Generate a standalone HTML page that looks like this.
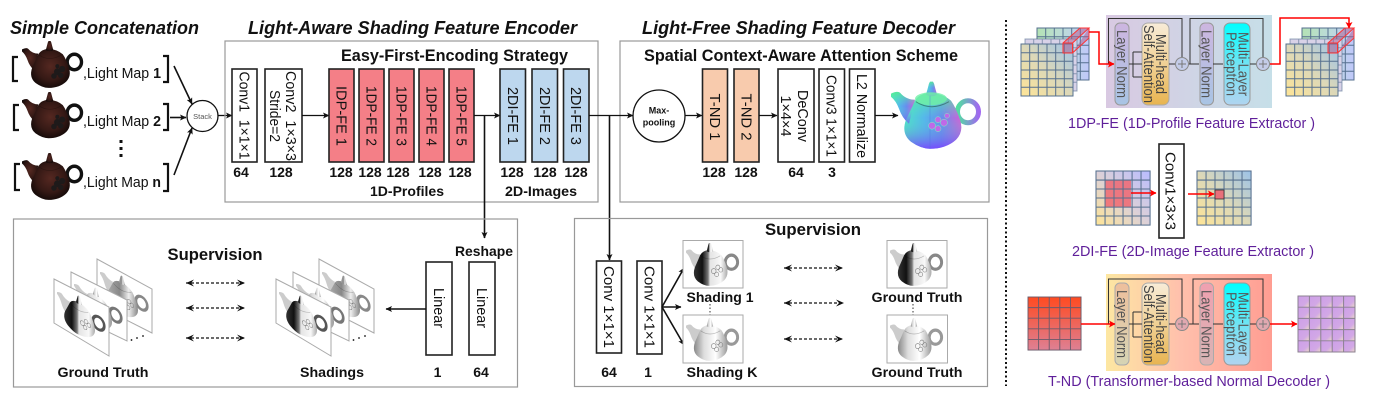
<!DOCTYPE html>
<html><head><meta charset="utf-8"><style>
html,body{margin:0;padding:0;background:#fff}
svg{display:block;filter:blur(.35px)}
text{font-family:"Liberation Sans",sans-serif;fill:#111}
.t{font-weight:bold;font-style:italic;font-size:18.5px}
.h{font-weight:bold;font-size:16.5px}
.n{font-weight:bold;font-size:14px;text-anchor:middle}
.r{font-size:14.5px;text-anchor:middle}
.g{font-size:15px;text-anchor:middle;fill:#555}
.c{font-size:14.5px;fill:#5f1f9a}
.b{stroke:#222;stroke-width:1.6;fill:#fff}
.br{fill:none;stroke:#111;stroke-width:2.2}
.a{fill:none;stroke:#111;stroke-width:1.3;marker-end:url(#m)}
.ak{fill:none;stroke:#111;stroke-width:1.6;marker-end:url(#m)}
.rd{fill:none;stroke:#f00;stroke-width:1.5;marker-end:url(#mr)}
.d{fill:none;stroke:#111;stroke-width:1.2;stroke-dasharray:3 2;marker-start:url(#md);marker-end:url(#mf)}
.frame{fill:#fff;stroke:#aaa;stroke-width:1}
.grp{fill:none;stroke:#999;stroke-width:1.2}
</style></head><body>
<svg xmlns="http://www.w3.org/2000/svg" width="1374" height="400" viewBox="0 0 1374 400">
<defs>
<marker id="m" markerUnits="userSpaceOnUse" markerWidth="7" markerHeight="6" refX="6" refY="3" orient="auto"><path d="M0,0L6.5,3L0,6L1.5,3Z" fill="#111"/></marker>
<marker id="mr" markerUnits="userSpaceOnUse" markerWidth="7" markerHeight="7" refX="6" refY="3.5" orient="auto"><path d="M0,0L6.5,3.5L0,7L1.5,3.5Z" fill="#f00"/></marker>
<marker id="mf" markerUnits="userSpaceOnUse" markerWidth="9" markerHeight="7" refX="8" refY="3.5" orient="auto"><path d="M0,0L8,3.5L0,7L3,3.5Z" fill="#111"/></marker>
<marker id="md" markerUnits="userSpaceOnUse" markerWidth="9" markerHeight="7" refX="0" refY="3.5" orient="auto"><path d="M8,0L0,3.5L8,7L5,3.5Z" fill="#111"/></marker>
<radialGradient id="brown" cx=".5" cy=".45" r=".6"><stop offset="0" stop-color="#552821"/><stop offset=".6" stop-color="#351915"/><stop offset="1" stop-color="#100807"/></radialGradient>
<linearGradient id="dark"><stop offset="0" stop-color="#333"/><stop offset=".25" stop-color="#111"/><stop offset=".42" stop-color="#777"/><stop offset=".48" stop-color="#e4e4e4"/><stop offset=".8" stop-color="#f8f8f8"/><stop offset="1" stop-color="#aaa"/></linearGradient>
<linearGradient id="light"><stop offset="0" stop-color="#888"/><stop offset=".3" stop-color="#ddd"/><stop offset=".65" stop-color="#fff"/><stop offset="1" stop-color="#999"/></linearGradient>
<linearGradient id="mid"><stop offset="0" stop-color="#aaa"/><stop offset=".4" stop-color="#888"/><stop offset=".7" stop-color="#eee"/><stop offset="1" stop-color="#888"/></linearGradient>
<linearGradient id="nm"><stop offset="0" stop-color="#4fe0c8"/><stop offset=".35" stop-color="#55b0f0"/><stop offset=".65" stop-color="#6a80f4"/><stop offset="1" stop-color="#e050d8"/></linearGradient>
<linearGradient id="nmv" x1="0" y1="0" x2="0" y2="1"><stop offset="0" stop-color="#55f08a" stop-opacity=".85"/><stop offset=".45" stop-color="#55f0c0" stop-opacity=".1"/><stop offset="1" stop-color="#7a40ff" stop-opacity=".85"/></linearGradient>
<linearGradient id="hd"><stop offset="0" stop-color="#50e0a0"/><stop offset="1" stop-color="#a068f0"/></linearGradient>
<linearGradient id="gY" x1="0" y1="1" x2="1" y2="0"><stop offset="0" stop-color="#ffe596"/><stop offset=".5" stop-color="#dcd8b8"/><stop offset="1" stop-color="#9cc2e8"/></linearGradient>
<linearGradient id="gL" x1="0" y1="1" x2="1" y2="0"><stop offset="0" stop-color="#ffe596"/><stop offset=".5" stop-color="#dcd0d8"/><stop offset="1" stop-color="#b8bcff"/></linearGradient>
<linearGradient id="gG" x1="0" y1="0" x2="1" y2="0"><stop offset="0" stop-color="#b4e2b4"/><stop offset=".5" stop-color="#bcdcd8"/><stop offset="1" stop-color="#c0c8fa"/></linearGradient>
<linearGradient id="gR" x1="0" y1="0" x2="0" y2="1"><stop offset="0" stop-color="#ff4a20"/><stop offset="1" stop-color="#de8094"/></linearGradient>
<linearGradient id="gP" x1="0" y1="0" x2="1" y2="1"><stop offset="0" stop-color="#cd9fe8"/><stop offset=".65" stop-color="#d2a8e6"/><stop offset="1" stop-color="#ecdcc4"/></linearGradient>
<linearGradient id="p1"><stop offset="0" stop-color="#d9c9e2"/><stop offset="1" stop-color="#c6dfe8"/></linearGradient>
<linearGradient id="p2"><stop offset="0" stop-color="#fde7a2"/><stop offset=".45" stop-color="#ffc0ac"/><stop offset="1" stop-color="#ff9d92"/></linearGradient>
<linearGradient id="ln1" x1="0" y1="0" x2="0" y2="1"><stop offset="0" stop-color="#cdb6e0"/><stop offset="1" stop-color="#a8c4e4"/></linearGradient>
<linearGradient id="ln2" x1="0" y1="0" x2="0" y2="1"><stop offset="0" stop-color="#eebf9c"/><stop offset="1" stop-color="#d6d4b4"/></linearGradient>
<linearGradient id="ln3" x1="0" y1="0" x2="0" y2="1"><stop offset="0" stop-color="#f0a0b0"/><stop offset="1" stop-color="#d8b4b4"/></linearGradient>
<linearGradient id="mh1" x1="0" y1="0" x2="0" y2="1"><stop offset="0" stop-color="#f8ecd8"/><stop offset="1" stop-color="#e8b450"/></linearGradient>
<linearGradient id="mlp" x1="0" y1="0" x2="0" y2="1"><stop offset="0" stop-color="#00ffff"/><stop offset=".5" stop-color="#70e4f4"/><stop offset="1" stop-color="#b0d4f0"/></linearGradient>
<g id="tp">
<ellipse cx="77" cy="30" rx="10.500" ry="11" fill="none" stroke-width="5"/>
<path stroke="none" style="fill:var(--sp,inherit)" d="M0,12Q6,9 9,11Q15,18 24,18L18,42Q11,36 8,27Q5,19 0,15Z"/>
<path stroke="none" d="M39,11Q28,12 24,19Q19,30 15,38Q10,52 20,60Q30,67 39,67Q55,67 65,58Q73,50 69,38Q65,26 60,19Q52,12 39,11Z"/>
<path stroke="none" d="M35,13L38,2L39,0L42,0L43,2L46,13Q41,16 35,13Z"/>
<path d="M25,20Q40,30 58,20" fill="none" stroke="#000" stroke-opacity=".25" stroke-width="1"/>
</g>
<g id="fl" fill="#1e1a1a"><circle cx="52" cy="44" r="5"/><circle cx="59" cy="40" r="4.500"/><circle cx="47" cy="50" r="4"/><circle cx="57" cy="49" r="4"/><circle cx="52" cy="36" r="3"/></g>
<g id="fl2" fill="none" stroke="#777" stroke-width=".9"><circle cx="47" cy="44" r="4"/><circle cx="54" cy="38" r="3.500"/><circle cx="59" cy="42" r="3.500"/><circle cx="52" cy="49" r="3.500"/></g>
<g id="g6" fill="none" stroke="#56708f" stroke-width="1"><rect x="0" y="0" width="52" height="52"/><path d="M8.700,0V52M17.300,0V52M26,0V52M34.700,0V52M43.300,0V52M0,8.700H52M0,17.300H52M0,26H52M0,34.700H52M0,43.300H52"/></g>
<g id="g5" fill="none" stroke-width=".9"><rect x="0" y="0" width="52" height="52"/><path d="M10.400,0V52M20.800,0V52M31.200,0V52M41.600,0V52M0,10.400H52M0,20.800H52M0,31.200H52M0,41.600H52"/></g>
<g id="stk">
<rect x="16" y="-16" width="52" height="52" fill="url(#gG)"/><use href="#g6" x="16" y="-16"/>
<rect x="4" y="-5" width="52" height="52" fill="#d8d2e8"/><use href="#g6" x="4" y="-5" opacity=".6"/>
<rect x="0" y="0" width="52" height="52" fill="url(#gY)"/><use href="#g6"/>
<path d="M42,-1H51.500V9H42ZM42,-1L59,-16H68L51.500,-1M51.500,9L68,-6V-16" fill="#b05a8a" fill-opacity=".5" stroke="#f33" stroke-width="1"/>
</g>
<g id="pl" style="--sp:#ccc">
<path class="frame" d="M97,259L152,289V333L97,305Z"/>
<use href="#tp" transform="matrix(.54,.27,0,.58,100,265)" fill="url(#mid)" stroke="#888"/>
<use href="#fl2" transform="matrix(.54,.27,0,.58,100,265)"/>
<path class="frame" d="M71,272L127,300V341L71,314Z"/>
<use href="#tp" transform="matrix(.54,.27,0,.58,74,277)" fill="url(#light)" stroke="#777"/>
<path class="frame" d="M54,279L109,307V356L54,323Z"/>
<use href="#tp" transform="matrix(.54,.27,0,.58,57,285)" fill="url(#dark)" stroke="#555"/>
<use href="#fl2" transform="matrix(.54,.27,0,.58,57,285)"/>
<circle cx="131.500" cy="340" r=".9" fill="#111"/><circle cx="137" cy="338" r=".9" fill="#111"/><circle cx="143" cy="336" r=".9" fill="#111"/>
</g>
</defs>

<text class="t" x="10" y="34" textLength="189" lengthAdjust="spacingAndGlyphs">Simple Concatenation</text>
<text class="t" x="248" y="34" textLength="329" lengthAdjust="spacingAndGlyphs">Light-Aware Shading Feature Encoder</text>
<text class="t" x="642" y="34" textLength="313" lengthAdjust="spacingAndGlyphs">Light-Free Shading Feature Decoder</text>

<!-- left teapots -->
<g><use href="#tp" transform="translate(22,41) scale(.68,.7)" fill="url(#brown)" stroke="#111"/><use href="#fl" transform="translate(22,41) scale(.68,.7)"/></g>
<g><use href="#tp" transform="translate(22,92) scale(.68,.69)" fill="url(#brown)" stroke="#111"/><use href="#fl" transform="translate(22,92) scale(.68,.69)"/></g>
<g><use href="#tp" transform="translate(22,153) scale(.68,.7)" fill="url(#brown)" stroke="#111"/><use href="#fl" transform="translate(22,153) scale(.68,.7)"/></g>
<path class="br" d="M18,57H13V81H18M163,56H168V82H163M19,105H14V130H19M163,104H168V130H163M20,164H15V190H20M163,164H168V191H163"/>
<text x="83" y="78" font-size="14.500" textLength="78" lengthAdjust="spacingAndGlyphs">,Light Map <tspan font-weight="bold">1</tspan></text>
<text x="83" y="126" font-size="14.500" textLength="78" lengthAdjust="spacingAndGlyphs">,Light Map <tspan font-weight="bold">2</tspan></text>
<text x="83" y="187" font-size="14.500" textLength="78" lengthAdjust="spacingAndGlyphs">,Light Map <tspan font-weight="bold">n</tspan></text>
<g fill="#111"><rect x="119.500" y="140" width="3" height="3"/><rect x="119.500" y="147" width="3" height="3"/><rect x="119.500" y="154" width="3" height="3"/></g>
<path class="ak" d="M174,66L192,104"/><path class="ak" d="M170,117.500H186"/><path class="ak" d="M174,175L192,128"/>
<circle cx="202.500" cy="116" r="15.500" fill="#fff" stroke="#111" stroke-width="1.300"/>
<text x="202.500" y="119" font-size="7.500" text-anchor="middle" style="fill:#555">Stack</text>
<path class="a" d="M218,115.500H232"/>

<!-- encoder -->
<rect class="grp" x="225" y="41" width="373" height="161"/>
<text class="h" x="341" y="61" textLength="227" lengthAdjust="spacingAndGlyphs">Easy-First-Encoding Strategy</text>
<rect class="b" x="232" y="69" width="25" height="93"/>
<text class="r" transform="translate(244.500,115.500) rotate(90)" y="5" textLength="88" lengthAdjust="spacingAndGlyphs">Conv1&#160;&#160;1×1×1</text>
<rect class="b" x="265" y="69" width="37" height="93"/>
<text class="r" transform="translate(285.500,116) rotate(90)" y="-0.500" textLength="90" lengthAdjust="spacingAndGlyphs">Conv2&#160;&#160;1×3×3</text>
<text class="r" transform="translate(269,116) rotate(90)" y="-1" textLength="52" lengthAdjust="spacingAndGlyphs">Stride=2</text>
<path class="a" d="M302,115.500H329"/>
<g fill="#f47f87" stroke="#222" stroke-width="1.600"><rect x="329" y="69" width="25" height="93"/><rect x="359" y="69" width="25" height="93"/><rect x="389" y="69" width="25" height="93"/><rect x="419" y="69" width="25" height="93"/><rect x="449" y="69" width="25" height="93"/></g>
<text class="r" transform="translate(341.500,116) rotate(90)" y="5" textLength="60" lengthAdjust="spacingAndGlyphs">IDP-FE 1</text>
<text class="r" transform="translate(371.500,116) rotate(90)" y="5" textLength="60" lengthAdjust="spacingAndGlyphs">1DP-FE 2</text>
<text class="r" transform="translate(401.500,116) rotate(90)" y="5" textLength="60" lengthAdjust="spacingAndGlyphs">1DP-FE 3</text>
<text class="r" transform="translate(431.500,116) rotate(90)" y="5" textLength="60" lengthAdjust="spacingAndGlyphs">1DP-FE 4</text>
<text class="r" transform="translate(461.500,116) rotate(90)" y="5" textLength="60" lengthAdjust="spacingAndGlyphs">1DP-FE 5</text>
<path class="a" d="M474,115.500H500"/>
<g fill="#bdd7ee" stroke="#222" stroke-width="1.600"><rect x="500" y="69" width="25.500" height="93"/><rect x="532" y="69" width="25.500" height="93"/><rect x="563.500" y="69" width="25.500" height="93"/></g>
<text class="r" transform="translate(513,116) rotate(90)" y="5" textLength="58" lengthAdjust="spacingAndGlyphs">2DI-FE 1</text>
<text class="r" transform="translate(545,116) rotate(90)" y="5" textLength="58" lengthAdjust="spacingAndGlyphs">2DI-FE 2</text>
<text class="r" transform="translate(576,116) rotate(90)" y="5" textLength="58" lengthAdjust="spacingAndGlyphs">2DI-FE 3</text>
<text class="n" x="241" y="177">64</text><text class="n" x="281" y="177">128</text>
<text class="n" x="341" y="177">128</text><text class="n" x="370" y="177">128</text><text class="n" x="398" y="177">128</text><text class="n" x="430" y="177">128</text><text class="n" x="460" y="177">128</text>
<text class="n" x="512" y="177">128</text><text class="n" x="545" y="177">128</text><text class="n" x="576" y="177">128</text>
<text class="n" x="407" y="196" textLength="74" lengthAdjust="spacingAndGlyphs">1D-Profiles</text>
<text class="n" x="541" y="196" textLength="72" lengthAdjust="spacingAndGlyphs">2D-Images</text>

<!-- decoder -->
<rect class="grp" x="620" y="41" width="369" height="161"/>
<text class="h" x="644" y="61" textLength="314" lengthAdjust="spacingAndGlyphs">Spatial Context-Aware Attention Scheme</text>
<path class="a" d="M589,115.500H633"/>
<circle cx="659" cy="116" r="26" fill="#fff" stroke="#111" stroke-width="1.300"/>
<text x="659" y="113.500" font-size="9" font-weight="bold" text-anchor="middle">Max-</text>
<text x="659" y="125.500" font-size="9" font-weight="bold" text-anchor="middle">pooling</text>
<path class="a" d="M685,115.500H702"/>
<g fill="#f8cbad" stroke="#222" stroke-width="1.600"><rect x="702.500" y="69" width="25" height="93"/><rect x="734" y="69" width="25" height="93"/></g>
<text class="r" transform="translate(715,117) rotate(90)" y="5" textLength="47" lengthAdjust="spacingAndGlyphs">T-ND 1</text>
<text class="r" transform="translate(746.500,117) rotate(90)" y="5" textLength="47" lengthAdjust="spacingAndGlyphs">T-ND 2</text>
<path class="a" d="M759,115.500H777"/>
<rect class="b" x="778" y="69" width="36" height="93"/>
<text class="r" transform="translate(797,116) rotate(90)" y="-1" textLength="52" lengthAdjust="spacingAndGlyphs">DeConv</text>
<text class="r" transform="translate(780,116) rotate(90)" y="-1" textLength="41" lengthAdjust="spacingAndGlyphs">1×4×4</text>
<rect class="b" x="819" y="69" width="25.500" height="93"/>
<text class="r" transform="translate(831.500,116) rotate(90)" y="5" textLength="82" lengthAdjust="spacingAndGlyphs">Conv3 1×1×1</text>
<rect class="b" x="849.500" y="69" width="25.500" height="93"/>
<text class="r" transform="translate(862,116) rotate(90)" y="5" textLength="84" lengthAdjust="spacingAndGlyphs">L2 Normalize</text>
<path class="a" d="M875,115.500H898"/>
<text class="n" x="714" y="177">128</text><text class="n" x="746" y="177">128</text><text class="n" x="796" y="177">64</text><text class="n" x="832" y="177">3</text>
<g transform="translate(891,81.700)">
<use href="#tp" fill="url(#nm)" stroke="url(#hd)"/>
<use href="#tp" fill="url(#nmv)" stroke="none"/>
<ellipse cx="40" cy="17" rx="16" ry="6.500" fill="#70f0a8" opacity=".8"/>
<path d="M39,14V67" stroke="#5070e0" stroke-width=".7" opacity=".5"/>
<g fill="#c068e8" stroke="#80f0c0" stroke-width=".5"><circle cx="41" cy="44" r="3.500"/><circle cx="47" cy="38" r="3"/><circle cx="53" cy="41" r="3.500"/><circle cx="47" cy="47" r="3"/><circle cx="56" cy="34" r="2.500"/></g>
</g>

<!-- verticals -->
<path class="ak" d="M484.500,115.500V238"/>
<path class="ak" d="M609.500,115.500V260"/>

<!-- bottom left -->
<rect class="grp" x="13.500" y="219" width="504" height="168"/>
<text class="h" x="215" y="260" text-anchor="middle" textLength="95" lengthAdjust="spacingAndGlyphs">Supervision</text>
<text x="484" y="256" font-size="14" font-weight="bold" text-anchor="middle" textLength="58" lengthAdjust="spacingAndGlyphs">Reshape</text>
<use href="#pl"/><use href="#pl" x="222"/>
<path class="d" d="M186,283H245"/><path class="d" d="M186,308H245"/><path class="d" d="M186,338H245"/>
<rect class="b" x="426" y="262" width="26" height="93"/>
<rect class="b" x="469" y="262" width="26" height="93"/>
<text class="r" transform="translate(439,308) rotate(90)" y="5" textLength="40" lengthAdjust="spacingAndGlyphs">Linear</text>
<text class="r" transform="translate(482,308) rotate(90)" y="5" textLength="40" lengthAdjust="spacingAndGlyphs">Linear</text>
<path class="ak" d="M426,309H386"/>
<text class="n" x="103" y="377" textLength="91" lengthAdjust="spacingAndGlyphs">Ground Truth</text>
<text class="n" x="332" y="377" textLength="64" lengthAdjust="spacingAndGlyphs">Shadings</text>
<text class="n" x="437.500" y="377">1</text><text class="n" x="481" y="377">64</text>

<!-- bottom right -->
<rect class="grp" x="574.500" y="218.500" width="413" height="168"/>
<text class="h" x="813" y="235" text-anchor="middle" textLength="96" lengthAdjust="spacingAndGlyphs">Supervision</text>
<rect class="b" x="596.500" y="261" width="25" height="92"/>
<rect class="b" x="637" y="261" width="25" height="93"/>
<text class="r" transform="translate(609,307) rotate(90)" y="5" textLength="82" lengthAdjust="spacingAndGlyphs">Conv 1×1×1</text>
<text class="r" transform="translate(649.500,307) rotate(90)" y="5" textLength="82" lengthAdjust="spacingAndGlyphs">Conv 1×1×1</text>
<path class="ak" d="M662,307L684,268"/><path class="ak" d="M662,307H681"/><path class="ak" d="M662,307L684,345"/>
<rect class="frame" x="683" y="240.500" width="60" height="47.500"/>
<rect class="frame" x="683" y="315" width="60" height="48"/>
<rect class="frame" x="887" y="240.500" width="60" height="47.500"/>
<rect class="frame" x="887" y="315" width="60.500" height="48"/>
<g style="--sp:#ccc">
<use href="#tp" transform="translate(686,243) scale(.59,.64)" fill="url(#dark)" stroke="#888"/>
<use href="#fl2" transform="translate(686,243) scale(.59,.64)"/>
<use href="#tp" transform="translate(686,318) scale(.59,.64)" fill="url(#light)" stroke="#999"/>
<use href="#fl2" transform="translate(686,318) scale(.59,.64)"/>
<use href="#tp" transform="translate(890,243) scale(.59,.64)" fill="url(#dark)" stroke="#888"/>
<use href="#fl2" transform="translate(890,243) scale(.59,.64)"/>
<use href="#tp" transform="translate(890,318) scale(.59,.64)" fill="url(#light)" stroke="#999"/>
<use href="#fl2" transform="translate(890,318) scale(.59,.64)"/>
</g>
<path d="M710,304V315M913,304V315" stroke="#333" stroke-width="1" stroke-dasharray="1.500 2" fill="none"/>
<path class="d" d="M784,268H843"/><path class="d" d="M784,303H844"/><path class="d" d="M784,339H843"/>
<text class="n" x="720" y="302" textLength="67" lengthAdjust="spacingAndGlyphs">Shading 1</text>
<text class="n" x="917" y="302" textLength="91" lengthAdjust="spacingAndGlyphs">Ground Truth</text>
<text class="n" x="722" y="377" textLength="71" lengthAdjust="spacingAndGlyphs">Shading K</text>
<text class="n" x="917" y="377" textLength="91" lengthAdjust="spacingAndGlyphs">Ground Truth</text>
<text class="n" x="609" y="377">64</text><text class="n" x="648" y="377">1</text>

<!-- divider -->
<path d="M1006,20V386" stroke="#111" stroke-width="2" stroke-dasharray="2 2.500" fill="none"/>

<!-- 1DP-FE -->
<use href="#stk" x="1021" y="44"/><use href="#stk" x="1286" y="44"/>
<rect x="1106" y="15" width="166" height="93" fill="url(#p1)"/>
<rect x="1115" y="23" width="14" height="82" rx="5" fill="url(#ln1)" stroke="#999"/>
<rect x="1142" y="23" width="27" height="82" rx="6" fill="url(#mh1)" stroke="#aaa"/>
<rect x="1200" y="23" width="13.500" height="82" rx="5" fill="url(#ln1)" stroke="#999"/>
<rect x="1224" y="23" width="26" height="82" rx="6" fill="url(#mlp)" stroke="#999"/>
<circle cx="1182" cy="64" r="6.500" fill="#c4cce8" stroke="#888"/><path d="M1178,64h8M1182,60v8" stroke="#777"/>
<circle cx="1263" cy="64" r="6.500" fill="#c4cce8" stroke="#888"/><path d="M1259,64h8M1263,60v8" stroke="#777"/>
<path d="M1108.500,64V18.500H1182V57M1190,64V18.500H1263V57M1133,52V77M1129,64H1142M1133,52H1142M1133,77H1142M1169,64H1175M1189,64H1199M1213,64H1223M1250,64H1256" fill="none" stroke="#333" stroke-width="1"/>
<text class="g" transform="translate(1122,64) rotate(90)" y="5" textLength="68" lengthAdjust="spacingAndGlyphs">Layer Norm</text>
<text class="g" transform="translate(1155,64) rotate(90)" y="-1" textLength="60" lengthAdjust="spacingAndGlyphs" style="fill:#444">Multi-head</text>
<text class="g" transform="translate(1143,64) rotate(90)" y="-1" textLength="78" lengthAdjust="spacingAndGlyphs" style="fill:#444">Self-Attention</text>
<text class="g" transform="translate(1206.500,64) rotate(90)" y="5" textLength="68" lengthAdjust="spacingAndGlyphs">Layer Norm</text>
<text class="g" transform="translate(1237.500,64) rotate(90)" y="-1" textLength="64" lengthAdjust="spacingAndGlyphs">Multi-Layer</text>
<text class="g" transform="translate(1225.500,64) rotate(90)" y="-1" textLength="64" lengthAdjust="spacingAndGlyphs">Perceptron</text>
<path class="rd" d="M1089,32H1099V64H1114"/>
<path class="rd" d="M1270,64H1280V18H1349V28"/>
<text class="c" x="1068" y="128" textLength="247" lengthAdjust="spacingAndGlyphs">1DP-FE (1D-Profile Feature Extractor )</text>

<!-- 2DI-FE -->
<rect x="1096" y="171" width="54" height="54" fill="url(#gL)"/>
<rect x="1105" y="180" width="26" height="27" fill="#f0606a" fill-opacity=".8"/>
<use href="#g6" transform="translate(1096,171) scale(1.04)"/>
<path class="rd" d="M1131,193H1156"/>
<rect class="b" x="1159" y="144" width="25" height="94"/>
<text class="r" transform="translate(1171.500,191) rotate(90)" y="6" font-size="15" textLength="78" lengthAdjust="spacingAndGlyphs">Conv1×3×3</text>
<rect x="1197" y="171" width="54" height="54" fill="url(#gY)"/>
<use href="#g6" transform="translate(1197,171) scale(1.04)"/>
<rect x="1215" y="190" width="9" height="9" fill="#e8707a" stroke="#333" stroke-width=".8"/>
<path class="rd" d="M1188,194H1214"/>
<text class="c" x="1072" y="256" textLength="242" lengthAdjust="spacingAndGlyphs">2DI-FE (2D-Image Feature Extractor )</text>

<!-- T-ND -->
<rect x="1028" y="297" width="53" height="53" fill="url(#gR)"/>
<use href="#g5" stroke="#6a5a6a" transform="translate(1028,297) scale(1.02)"/>
<rect x="1106" y="274" width="166" height="97" fill="url(#p2)"/>
<rect x="1115" y="283" width="14" height="82" rx="5" fill="url(#ln2)" stroke="#aaa"/>
<rect x="1142" y="283" width="27" height="82" rx="6" fill="url(#mh1)" stroke="#aaa"/>
<rect x="1200" y="283" width="13.500" height="82" rx="5" fill="url(#ln3)" stroke="#aaa"/>
<rect x="1224" y="283" width="26" height="82" rx="6" fill="url(#mlp)" stroke="#999"/>
<circle cx="1182" cy="324" r="6.500" fill="#e0a8b0" stroke="#888"/><path d="M1178,324h8M1182,320v8" stroke="#777"/>
<circle cx="1263" cy="324" r="6.500" fill="#e0a8b0" stroke="#888"/><path d="M1259,324h8M1263,320v8" stroke="#777"/>
<path d="M1108.500,324V279H1182V317M1193,324V279H1263V317M1133,312V337M1129,324H1142M1133,312H1142M1133,337H1142M1169,324H1175M1189,324H1199M1213,324H1223M1250,324H1256" fill="none" stroke="#333" stroke-width="1"/>
<text class="g" transform="translate(1122,324) rotate(90)" y="5" textLength="68" lengthAdjust="spacingAndGlyphs">Layer Norm</text>
<text class="g" transform="translate(1155,324) rotate(90)" y="-1" textLength="60" lengthAdjust="spacingAndGlyphs" style="fill:#444">Multi-head</text>
<text class="g" transform="translate(1143,324) rotate(90)" y="-1" textLength="78" lengthAdjust="spacingAndGlyphs" style="fill:#444">Self-Attention</text>
<text class="g" transform="translate(1206.500,324) rotate(90)" y="5" textLength="68" lengthAdjust="spacingAndGlyphs">Layer Norm</text>
<text class="g" transform="translate(1237.500,324) rotate(90)" y="-1" textLength="64" lengthAdjust="spacingAndGlyphs">Multi-Layer</text>
<text class="g" transform="translate(1225.500,324) rotate(90)" y="-1" textLength="64" lengthAdjust="spacingAndGlyphs">Perceptron</text>
<path class="rd" d="M1081,324H1115"/>
<path class="rd" d="M1270,324H1297"/>
<rect x="1298" y="296" width="57" height="56" fill="#d4aede"/>
<g fill="url(#gP)">
<rect x="1298" y="296" width="11.400" height="11.200"/><rect x="1309.400" y="296" width="11.400" height="11.200"/><rect x="1320.800" y="296" width="11.400" height="11.200"/><rect x="1332.200" y="296" width="11.400" height="11.200"/><rect x="1343.600" y="296" width="11.400" height="11.200"/>
<rect x="1298" y="307.200" width="11.400" height="11.200"/><rect x="1309.400" y="307.200" width="11.400" height="11.200"/><rect x="1320.800" y="307.200" width="11.400" height="11.200"/><rect x="1332.200" y="307.200" width="11.400" height="11.200"/><rect x="1343.600" y="307.200" width="11.400" height="11.200"/>
<rect x="1298" y="318.400" width="11.400" height="11.200"/><rect x="1309.400" y="318.400" width="11.400" height="11.200"/><rect x="1320.800" y="318.400" width="11.400" height="11.200"/><rect x="1332.200" y="318.400" width="11.400" height="11.200"/><rect x="1343.600" y="318.400" width="11.400" height="11.200"/>
<rect x="1298" y="329.600" width="11.400" height="11.200"/><rect x="1309.400" y="329.600" width="11.400" height="11.200"/><rect x="1320.800" y="329.600" width="11.400" height="11.200"/><rect x="1332.200" y="329.600" width="11.400" height="11.200"/><rect x="1343.600" y="329.600" width="11.400" height="11.200"/>
<rect x="1298" y="340.800" width="11.400" height="11.200"/><rect x="1309.400" y="340.800" width="11.400" height="11.200"/><rect x="1320.800" y="340.800" width="11.400" height="11.200"/><rect x="1332.200" y="340.800" width="11.400" height="11.200"/><rect x="1343.600" y="340.800" width="11.400" height="11.200"/>
</g>
<use href="#g5" stroke="#8a8090" transform="translate(1298,296) scale(1.096,1.077)"/>
<text class="c" x="1048" y="386" textLength="282" lengthAdjust="spacingAndGlyphs">T-ND (Transformer-based Normal Decoder )</text>
</svg>
</body></html>
